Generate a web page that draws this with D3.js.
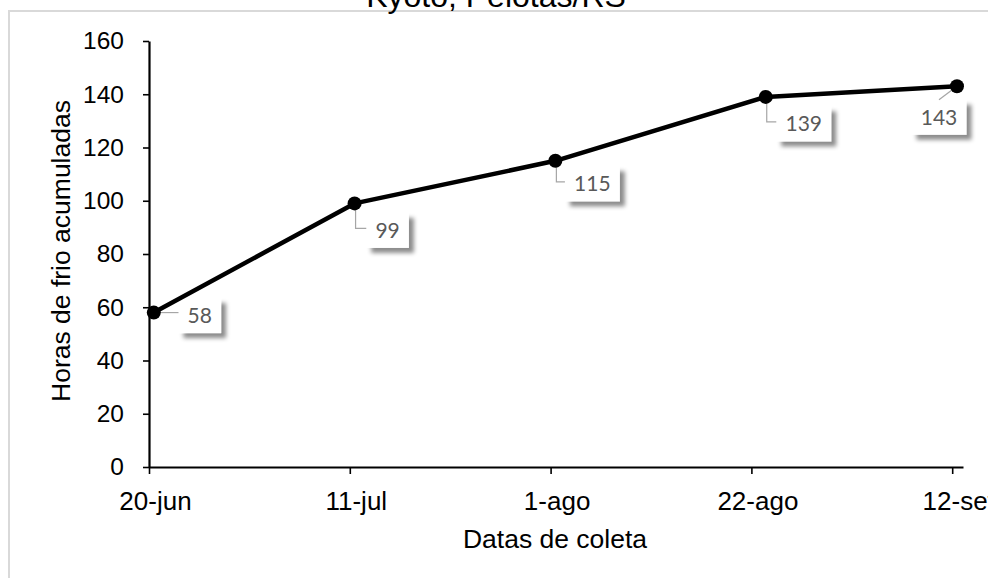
<!DOCTYPE html>
<html>
<head>
<meta charset="utf-8">
<script src="https://cdn.jsdelivr.net/npm/d3@7"></script>
<style>
  html, body { margin: 0; padding: 0; background: #fff; }
  svg { display: block; }
</style>
</head>
<body>
<svg id="chart" width="988" height="578"></svg>
<script>
// ---- data ----
const title = "Kyoto, Pelotas/RS";
const yTitle = "Horas de frio acumuladas";
const xTitle = "Datas de coleta";
const pointDates = ["2019-06-20T12:00", "2019-07-11T12:00", "2019-08-01T12:00", "2019-08-23T12:00", "2019-09-12T12:00"];
const chillHours = [58, 99, 115, 139, 143];
const tickDates = ["2019-06-20", "2019-07-11", "2019-08-01", "2019-08-22", "2019-09-12"];
const tickLabels = ["20-jun", "11-jul", "1-ago", "22-ago", "12-set"];
const yTicks = [0, 20, 40, 60, 80, 100, 120, 140, 160];

// ---- layout (label placement relative to points) ----
const labelLayout = [
  { dx: 46, dy: 3, leader: "h" },
  { dx: 33, dy: 27, leader: "elbow" },
  { dx: 37, dy: 23, leader: "elbow" },
  { dx: 38, dy: 27, leader: "elbow" },
  { dx: -18, dy: 31, leader: "diag" }
];

const parse = d3.timeParse("%Y-%m-%dT%H:%M");
const parseDay = d3.timeParse("%Y-%m-%d");
const svg = d3.select("#chart");

const defs = svg.append("defs");
const f = defs.append("filter").attr("id", "shadow")
  .attr("x", "-30%").attr("y", "-30%").attr("width", "170%").attr("height", "170%");
f.append("feDropShadow").attr("dx", 5).attr("dy", 5).attr("stdDeviation", 2.2)
  .attr("flood-color", "#000").attr("flood-opacity", 0.45);

// outer border
svg.append("rect").attr("x", 9).attr("y", 11).attr("width", 1100).attr("height", 700)
  .attr("fill", "none").attr("stroke", "#d9d9d9").attr("stroke-width", 2);

// title (mostly cropped at top)
svg.append("text").attr("x", 496).attr("y", 7).attr("text-anchor", "middle")
  .attr("font-family", "Liberation Sans, Arial, sans-serif").attr("font-size", 32)
  .attr("fill", "#000").text(title);

const x0 = parseDay("2019-06-20");
const xEnd = new Date(parseDay("2019-09-12").getTime() + 1.13 * 86400000);
const x = d3.scaleTime().domain([x0, xEnd]).range([149, 963]);
const y = d3.scaleLinear().domain([0, 160]).range([467, 41]);

const fontAx = "Liberation Sans, Arial, sans-serif";

// y axis
const yAxis = svg.append("g").attr("transform", "translate(149,0)")
  .call(d3.axisLeft(y).tickValues(yTicks).tickSize(6).tickSizeOuter(0).tickPadding(19));
yAxis.select(".domain").attr("stroke", "#000").attr("stroke-width", 2.2);
yAxis.selectAll(".tick line").attr("stroke", "#000").attr("stroke-width", 1.6);
yAxis.selectAll(".tick text").attr("font-family", fontAx).attr("font-size", 24.5).attr("fill", "#000");

// x axis
const xAxis = svg.append("g").attr("transform", "translate(0,467)")
  .call(d3.axisBottom(x).tickValues(tickDates.map(parseDay))
    .tickFormat((d, i) => tickLabels[i]).tickSize(7).tickSizeOuter(0).tickPadding(18));
xAxis.select(".domain").attr("stroke", "#000").attr("stroke-width", 1.8);
xAxis.selectAll(".tick line").attr("stroke", "#000").attr("stroke-width", 1.6);
xAxis.selectAll(".tick text").attr("font-family", fontAx).attr("font-size", 26)
  .attr("fill", "#000").attr("dx", 6);

// axis titles
svg.append("text").attr("transform", "translate(70,251) rotate(-90)")
  .attr("text-anchor", "middle").attr("font-family", fontAx).attr("font-size", 26.5)
  .attr("fill", "#000").text(yTitle);
svg.append("text").attr("x", 555).attr("y", 548).attr("text-anchor", "middle")
  .attr("font-family", fontAx).attr("font-size", 26.5).attr("fill", "#000").text(xTitle);

// series
const pts = pointDates.map((d, i) => ({ x: x(parse(d)), y: y(chillHours[i]), v: chillHours[i], l: labelLayout[i] }));

// data labels (boxes under the line)
const bw = d => String(d.v).length * 12.3 + 18;
const bh = 35;
const lbl = svg.append("g").selectAll("g").data(pts).join("g")
  .attr("transform", d => `translate(${d.x + d.l.dx},${d.y + d.l.dy})`);
lbl.append("rect").attr("x", d => -bw(d) / 2).attr("y", -bh / 2)
  .attr("width", bw).attr("height", bh).attr("fill", "#fff").attr("filter", "url(#shadow)");
lbl.append("text").attr("text-anchor", "middle").attr("y", 7.5)
  .attr("font-family", "Lato, Carlito, sans-serif").attr("font-size", 21)
  .attr("fill", "#595959").text(d => d.v);

// leader lines
const leaders = svg.append("g").attr("stroke", "#a6a6a6").attr("stroke-width", 1.2).attr("fill", "none");
pts.forEach(d => {
  const cx = d.x + d.l.dx, cy = d.y + d.l.dy;
  const left = cx - bw(d) / 2, top = cy - bh / 2;
  let p;
  if (d.l.leader === "h") p = `M${d.x},${d.y}H${left}`;
  else if (d.l.leader === "elbow") p = `M${d.x + 1},${d.y}V${cy - 2}H${left}`;
  else p = `M${cx},${top}L${d.x - 4},${d.y + 3}`;
  leaders.append("path").attr("d", p);
});

svg.append("path").datum(pts)
  .attr("d", d3.line().x(d => d.x).y(d => d.y))
  .attr("fill", "none").attr("stroke", "#000").attr("stroke-width", 4.5)
  .attr("stroke-linejoin", "round");

svg.append("g").selectAll("circle").data(pts).join("circle")
  .attr("cx", d => d.x).attr("cy", d => d.y).attr("r", 7).attr("fill", "#000");
</script>
</body>
</html>
